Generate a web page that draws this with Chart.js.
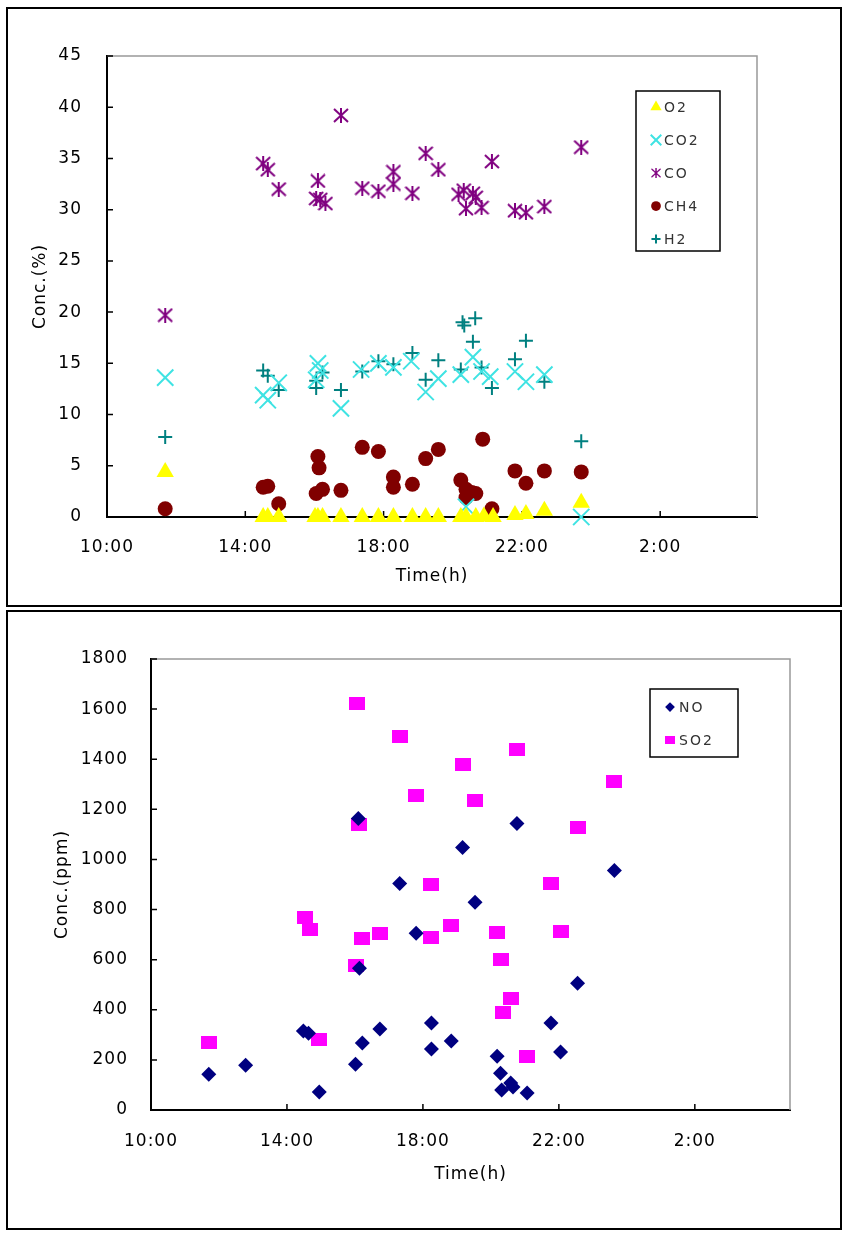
<!DOCTYPE html>
<html>
<head>
<meta charset="utf-8">
<script src="https://cdn.jsdelivr.net/npm/chart.js@4.4.1/dist/chart.umd.min.js"></script>
<style>
  body { margin: 0; background: #fff; }
  .box { position: absolute; border: 2px solid #000; box-sizing: border-box; }
  canvas { position: absolute; left: 0; }
</style>
</head>
<body>
<div class="box" style="left:6px; top:7px; width:836px; height:600px;"></div>
<div class="box" style="left:6px; top:610px; width:836px; height:620px;"></div>
<canvas id="gasChart" width="849" height="608" style="top:0"></canvas>
<canvas id="noxChart" width="849" height="627" style="top:608px"></canvas>
<script>
// x axis (time of day, hours; 2:00 is shown after midnight)
const hourTicks = [10, 14, 18, 22, 26];
const hourLabels = ['10:00', '14:00', '18:00', '22:00', '2:00'];

// --- top chart, Conc.(%) ---
const o2Time = ['11:41', '14:31', '14:39', '14:58', '16:01', '16:06', '16:14', '16:46', '17:23', '17:51', '18:17',
    '18:50', '19:13', '19:35', '20:14', '20:23', '20:40', '20:54', '21:10', '21:48', '22:07', '22:39', '23:43'];
const o2Conc = [4.4, 0, 0, 0, 0, 0, 0, 0, 0, 0, 0, 0, 0, 0, 0, 0, 0, 0.05, 0, 0.2, 0.3, 0.6, 1.4];

const co2Time = ['11:41', '14:31', '14:39', '14:58', '16:03', '16:06', '16:10', '16:46', '17:21', '17:51', '18:17', '18:48',
    '19:13', '19:35', '20:14', '20:23', '20:35', '20:50', '21:05', '21:48', '22:07', '22:39', '23:43'];
const co2Conc = [13.6, 11.9, 11.4, 13.1, 13.4, 15.0, 14.3, 10.6, 14.4, 15.0, 14.6, 15.2,
    12.2, 13.5, 13.9, 1.0, 15.6, 14.2, 13.7, 14.2, 13.2, 13.9, 0.0];

const coTime = ['11:41', '14:31', '14:39', '14:58', '16:03', '16:06', '16:10', '16:19', '16:46', '17:23', '17:51', '18:17',
    '18:17', '18:50', '19:13', '19:35', '20:10', '20:19', '20:23', '20:35', '20:40', '20:50', '21:08', '21:48', '22:07',
    '22:39', '23:43'];
const coConc = [19.7, 34.5, 33.9, 32.0, 31.1, 32.8, 31.0, 30.6, 39.2, 32.1, 31.8, 33.7,
    32.5, 31.6, 35.5, 33.9, 31.5, 31.9, 30.1, 31.6, 31.2, 30.2, 34.7, 29.9, 29.7,
    30.3, 36.1];

const ch4Time = ['11:41', '14:31', '14:39', '14:58', '16:03', '16:06', '16:08', '16:14', '16:46', '17:23', '17:51', '18:17',
    '18:17', '18:50', '19:13', '19:35', '20:14', '20:23', '20:23', '20:33', '20:40', '20:52', '21:08', '21:48', '22:07',
    '22:39', '23:43'];
const ch4Conc = [0.8, 2.9, 3.0, 1.3, 2.3, 5.9, 4.8, 2.7, 2.6, 6.8, 6.4, 3.9,
    2.9, 3.2, 5.7, 6.6, 3.6, 2.7, 1.9, 2.4, 2.3, 7.6, 0.8, 4.5, 3.3,
    4.5, 4.4];

const h2Time = ['11:41', '14:31', '14:39', '14:58', '16:03', '16:03', '16:14', '16:46', '17:23', '17:51', '18:17', '18:50',
    '19:13', '19:35', '20:14', '20:17', '20:20', '20:35', '20:39', '20:50', '21:08', '21:48', '22:07', '22:39', '23:43'];
const h2Conc = [7.8, 14.3, 13.8, 12.4, 13.3, 12.6, 14.1, 12.4, 14.2, 15.2, 14.9, 16.0,
    13.4, 15.3, 14.4, 19.0, 18.7, 17.1, 19.4, 14.6, 12.6, 15.4, 17.2, 13.2, 7.4];

// --- bottom chart, Conc.(ppm) ---
const noTime = ['11:42', '12:47', '14:29', '14:38', '14:57', '16:01', '16:06', '16:08', '16:13', '16:44', '17:19', '17:48',
    '18:15', '18:15', '18:50', '19:10', '19:32', '20:11', '20:17', '20:19', '20:35', '20:39', '20:46', '21:04', '21:46',
    '22:03', '22:33', '23:38'];
const noConc = [143, 179, 315, 306, 72, 183, 1163, 566, 267, 323, 904, 705,
    347, 243, 275, 1048, 829, 215, 147, 80, 108, 92, 1143, 68, 347,
    231, 506, 956];

const so2Time = ['11:42', '14:31', '14:40', '14:57', '16:01', '16:04', '16:08', '16:13', '16:44', '17:19', '17:48', '18:15',
    '18:15', '18:50', '19:10', '19:32', '20:11', '20:17', '20:21', '20:35', '20:46', '21:04', '21:46', '22:03', '22:33', '23:38'];
const so2Conc = [271, 769, 721, 283, 578, 1622, 1140, 685, 705, 1490, 1255, 900,
    689, 737, 1378, 1235, 709, 601, 390, 446, 1438, 215, 904, 713, 1127, 1311];

function toHours(t) {
    const [h, m] = t.split(':').map(Number);
    return (h < 10 ? h + 24 : h) + m / 60;
}
function toPoints(times, vals) {
    return times.map((t, i) => ({ x: toHours(t), y: vals[i] }));
}

// Excel style markers that chart.js does not have
function makeAsterisk(color, w, h) {
    const c = document.createElement('canvas');
    c.width = w; c.height = h;
    const g = c.getContext('2d');
    g.strokeStyle = color;
    g.lineWidth = 2;
    g.beginPath();
    g.moveTo(1, 1); g.lineTo(w - 1, h - 1);
    g.moveTo(w - 1, 1); g.lineTo(1, h - 1);
    g.moveTo(w / 2, 0); g.lineTo(w / 2, h);
    g.stroke();
    return c;
}
function makeBlock(color, w, h) {
    const c = document.createElement('canvas');
    c.width = w; c.height = h;
    const g = c.getContext('2d');
    g.fillStyle = color;
    g.fillRect(0, 0, w, h);
    return c;
}

Chart.defaults.font.family = '"DejaVu Sans", sans-serif';
Chart.defaults.color = '#000';

function drawMarker(ctx, ds, x, y, k) {
    const st = ds.pointStyle;
    const r = ds.pointRadius * k;
    ctx.save();
    ctx.fillStyle = ds.pointBackgroundColor;
    ctx.strokeStyle = ds.pointBorderColor;
    ctx.lineWidth = ds.pointBorderWidth;
    ctx.beginPath();
    if (st instanceof HTMLCanvasElement) {
        const w = st.width * k, h = st.height * k;
        ctx.drawImage(st, x - w / 2, y - h / 2, w, h);
    } else if (st === 'triangle') {
        ctx.moveTo(x, y - r);
        ctx.lineTo(x + r * 0.866, y + r / 2);
        ctx.lineTo(x - r * 0.866, y + r / 2);
        ctx.closePath();
        ctx.fill();
    } else if (st === 'circle') {
        ctx.arc(x, y, r, 0, Math.PI * 2);
        ctx.fill();
    } else if (st === 'crossRot') {
        const o = r * 0.707;
        ctx.moveTo(x - o, y - o); ctx.lineTo(x + o, y + o);
        ctx.moveTo(x + o, y - o); ctx.lineTo(x - o, y + o);
        ctx.stroke();
    } else if (st === 'cross') {
        ctx.moveTo(x - r, y); ctx.lineTo(x + r, y);
        ctx.moveTo(x, y - r); ctx.lineTo(x, y + r);
        ctx.stroke();
    } else if (st === 'rectRot') {
        ctx.moveTo(x - r, y); ctx.lineTo(x, y - r);
        ctx.lineTo(x + r, y); ctx.lineTo(x, y + r);
        ctx.closePath();
        ctx.fill();
    }
    ctx.restore();
}

// framed legend inside the plot, like the excel one
const boxLegend = {
    id: 'boxLegend',
    afterDraw(chart, args, opts) {
        const ctx = chart.ctx;
        ctx.save();
        ctx.lineWidth = 1.5;
        ctx.strokeStyle = '#000';
        ctx.strokeRect(opts.left, opts.top, opts.width, opts.height);
        ctx.font = '14px "DejaVu Sans"';
        ctx.textBaseline = 'middle';
        ctx.letterSpacing = '2px';
        chart.data.datasets.forEach((ds, i) => {
            const cy = opts.firstRow + i * opts.rowGap;
            drawMarker(ctx, ds, opts.markerX, cy, 0.65);
            ctx.fillStyle = '#333';
            ctx.fillText(ds.label, opts.textX, cy + 1);
        });
        ctx.restore();
    }
};

// grey top/right edge of the plot area and inward tick marks
const plotFrame = {
    id: 'plotFrame',
    beforeDraw(chart) {
        chart.ctx.letterSpacing = '1px';
    },
    beforeDatasetsDraw(chart) {
        const { ctx, chartArea: a, scales: { x, y } } = chart;
        ctx.save();
        ctx.strokeStyle = '#999';
        ctx.lineWidth = 1.5;
        ctx.beginPath();
        ctx.moveTo(a.left, a.top);
        ctx.lineTo(a.right, a.top);
        ctx.lineTo(a.right, a.bottom);
        ctx.stroke();
        ctx.strokeStyle = '#000';
        ctx.lineWidth = 1.5;
        ctx.beginPath();
        y.ticks.forEach(t => {
            const py = y.getPixelForValue(t.value);
            ctx.moveTo(a.left, py);
            ctx.lineTo(a.left + 6, py);
        });
        x.ticks.forEach(t => {
            const px = x.getPixelForValue(t.value);
            ctx.moveTo(px, a.bottom);
            ctx.lineTo(px, a.bottom - 6);
        });
        ctx.stroke();
        ctx.restore();
    }
};

function timeAxis(fitHeight, tickPad, titlePad) {
    return {
        type: 'linear',
        min: 10,
        max: 28.8,
        afterBuildTicks: s => { s.ticks = hourTicks.map(v => ({ value: v })); },
        afterFit: s => { s.height = fitHeight; },
        grid: { display: false, drawTicks: false },
        border: { color: '#000', width: 2 },
        ticks: {
            padding: tickPad,
            autoSkip: false,
            maxRotation: 0,
            font: { size: 17 },
            callback: (v, i) => hourLabels[i]
        },
        title: { display: true, text: 'Time(h)', font: { size: 17 }, padding: { top: 0, bottom: titlePad } }
    };
}

function concAxis(max, step, fitWidth, tickPad, title, titlePad) {
    return {
        min: 0,
        max: max,
        afterFit: s => { s.width = fitWidth; },
        grid: { display: false, drawTicks: false },
        border: { color: '#000', width: 2 },
        ticks: { stepSize: step, padding: tickPad, font: { size: 17 }, callback: v => String(v) },
        title: { display: true, text: title, font: { size: 17 }, padding: { top: titlePad, bottom: 0 } }
    };
}

function series(label, times, vals, style, color, radius, borderWidth) {
    return {
        label: label,
        data: toPoints(times, vals),
        pointStyle: style,
        pointRadius: radius,
        pointHoverRadius: radius,
        pointBackgroundColor: color,
        pointBorderColor: color,
        pointBorderWidth: borderWidth,
        backgroundColor: color,
        borderColor: color,
        showLine: false,
        clip: false
    };
}

new Chart(document.getElementById('gasChart'), {
    type: 'scatter',
    data: {
        datasets: [
            series('O2', o2Time, o2Conc, 'triangle', '#FFFF00', 10, 0),
            series('CO2', co2Time, co2Conc, 'crossRot', '#3FE3E3', 11.5, 2),
            series('CO', coTime, coConc, makeAsterisk('#800080', 16, 15), '#800080', 8, 2),
            series('CH4', ch4Time, ch4Conc, 'circle', '#800000', 7.5, 0),
            series('H2', h2Time, h2Conc, 'cross', '#008080', 7, 2)
        ]
    },
    options: {
        responsive: false,
        animation: false,
        devicePixelRatio: 1,
        layout: { padding: { left: 10, top: 56, right: 92, bottom: 0 } },
        plugins: {
            legend: { display: false },
            tooltip: { enabled: false },
            boxLegend: { left: 636, top: 91, width: 84, height: 160, firstRow: 107, rowGap: 33, markerX: 656, textX: 664 }
        },
        scales: {
            x: timeAxis(91, 20, 21),
            y: concAxis(45, 5, 97, 25, 'Conc.(%)', 20)
        }
    },
    plugins: [plotFrame, boxLegend]
});

new Chart(document.getElementById('noxChart'), {
    type: 'scatter',
    data: {
        datasets: [
            series('NO', noTime, noConc, 'rectRot', '#000080', 7.5, 0),
            series('SO2', so2Time, so2Conc, makeBlock('#FF00FF', 16, 13), '#FF00FF', 8, 0)
        ]
    },
    options: {
        responsive: false,
        animation: false,
        devicePixelRatio: 1,
        layout: { padding: { left: 8, top: 51, right: 59, bottom: 0 } },
        plugins: {
            legend: { display: false },
            tooltip: { enabled: false },
            boxLegend: { left: 650, top: 81, width: 88, height: 68, firstRow: 99, rowGap: 33, markerX: 670, textX: 679 }
        },
        scales: {
            x: timeAxis(125, 21, 50),
            y: concAxis(1800, 200, 143, 23, 'Conc.(ppm)', 44)
        }
    },
    plugins: [plotFrame, boxLegend]
});
</script>
</body>
</html>
